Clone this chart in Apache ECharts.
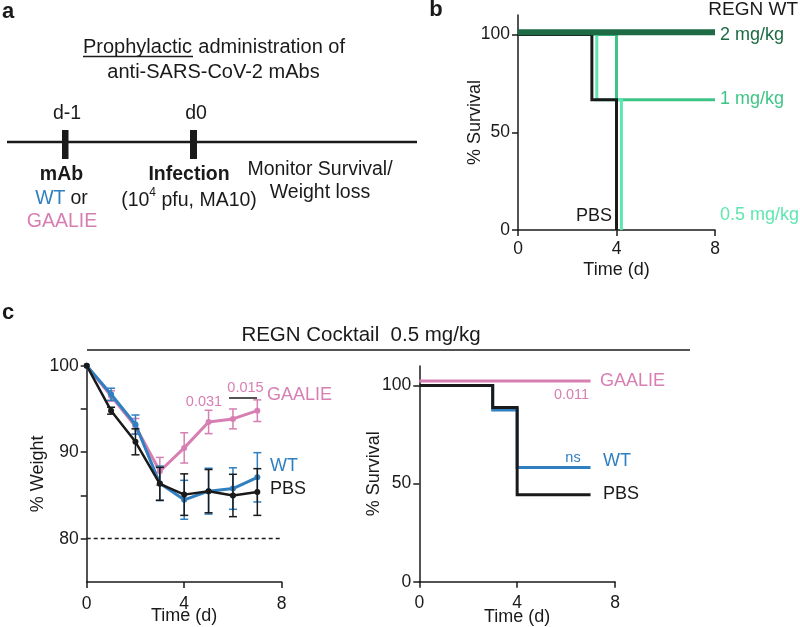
<!DOCTYPE html>
<html><head><meta charset="utf-8">
<script src="https://cdn.jsdelivr.net/npm/echarts@6/dist/echarts.min.js"></script>
<style>html,body{margin:0;padding:0;background:#fff}#c{width:800px;height:627px}</style>
</head><body><div id="c"></div>
<script>
// ---------- Panel b: survival, REGN WT doses ----------
const bPbsDays = [0, 3, 4];
const bPbsSurv = [100, 66.7, 0];
const bHalfDays = [0, 3.2, 4.2];
const bHalfSurv = [100, 66.7, 0];
const bOneDays = [0, 4, 8];
const bOneSurv = [100, 66.7, 66.7];
const bTwoDays = [0, 8];
const bTwoSurv = [101.2, 101.2];

// ---------- Panel c left: % weight ----------
const wDays = [0, 1, 2, 3, 4, 5, 6, 7];
const wtMean = [100, 96.7, 93.2, 86.4, 84.5, 85.5, 85.8, 87.1];
const wtErr = [0, 0.7, 1.1, 2.0, 2.25, 2.65, 2.4, 2.85];
const gaMean = [100, 96.5, 93.0, 87.8, 90.5, 93.5, 93.85, 94.8];
const gaErr = [0, 0.6, 0.9, 1.6, 1.75, 1.35, 1.15, 1.25];
const pbsMean = [100, 94.8, 91.2, 86.35, 85.1, 85.5, 85.0, 85.4];
const pbsErr = [0, 0.4, 1.5, 1.9, 2.4, 2.5, 2.45, 2.7];
const weightThreshold = 80;

// ---------- Panel c right: survival ----------
const cGaDays = [0, 7];
const cGaSurv = [102.4, 102.4];
const cWtDays = [0, 3, 4, 7];
const cWtSurv = [100, 87.5, 58.3, 58.3];
const cPbsDays = [0, 3, 4, 7];
const cPbsSurv = [100, 88.9, 44.4, 44.4];

// ---------- ticks ----------
const survTicks = [0, 50, 100];
const weightLabelTicks = [80, 90, 100];
const weightTicks = [80, 85, 90, 95, 100];

const FONT = 'Liberation Sans, Arial, sans-serif';
const INK = '#1a1a1a';
const PINK = '#d77fb3';
const BLUE = '#2f7fc1';
const DKGREEN = '#1d6a45';
const MDGREEN = '#3fc487';
const LTGREEN = '#5fe6b0';

const zip = (a, b) => a.map((v, i) => [v, b[i]]);

function xAxis(grid, gap, margin) {
  return {
    type: 'value', gridIndex: grid, min: 0, max: 8, interval: 4,
    name: 'Time (d)', nameLocation: 'middle', nameGap: gap, nameMoveOverlap: false,
    nameTextStyle: {fontSize: 18, color: INK, fontFamily: FONT},
    axisLine: {onZero: false, lineStyle: {color: INK, width: 1.5}},
    axisTick: {length: 6, lineStyle: {color: INK, width: 1.5}},
    axisLabel: {fontSize: 17.5, color: INK, fontFamily: FONT, margin: margin},
    splitLine: {show: false}
  };
}
function yAxis(grid, min, max, labels, ticks, name, gap) {
  return {
    type: 'value', gridIndex: grid, min: min, max: max,
    name: name, nameLocation: 'middle', nameGap: gap, nameMoveOverlap: false,
    nameTextStyle: {fontSize: 18, color: INK, fontFamily: FONT},
    axisLine: {onZero: false, lineStyle: {color: INK, width: 1.5}},
    axisTick: {length: 6, customValues: ticks, lineStyle: {color: INK, width: 1.5}},
    axisLabel: {fontSize: 17.5, color: INK, fontFamily: FONT, margin: 8, customValues: labels},
    splitLine: {show: false}
  };
}
function km(name, days, surv, color, width, xi, z) {
  return {
    type: 'line', name: name, xAxisIndex: xi, yAxisIndex: xi, step: 'end',
    data: zip(days, surv), symbol: 'none', z: z, silent: true,
    lineStyle: {color: color, width: width, cap: 'butt', join: 'miter'}
  };
}
function meanLine(name, means, color, width, z) {
  return {
    type: 'line', name: name, xAxisIndex: 1, yAxisIndex: 1, z: z,
    data: zip(wDays, means), symbol: 'circle', symbolSize: 6,
    itemStyle: {color: color}, lineStyle: {color: color, width: width}
  };
}
function errBars(means, errs, color, z) {
  return {
    type: 'custom', xAxisIndex: 1, yAxisIndex: 1, z: z,
    encode: {x: 0, y: [1, 2]},
    data: wDays.map((d, i) => [d, means[i] - errs[i], means[i] + errs[i]]),
    renderItem: function (params, api) {
      const x = api.value(0), lo = api.value(1), hi = api.value(2);
      if (hi - lo < 0.01) return {type: 'group', children: []};
      const p1 = api.coord([x, lo]), p2 = api.coord([x, hi]);
      const w = 4, st = {stroke: color, lineWidth: 1.5};
      return {type: 'group', children: [
        {type: 'line', shape: {x1: p1[0], y1: p1[1], x2: p2[0], y2: p2[1]}, style: st},
        {type: 'line', shape: {x1: p1[0] - w, y1: p1[1], x2: p1[0] + w, y2: p1[1]}, style: st},
        {type: 'line', shape: {x1: p2[0] - w, y1: p2[1], x2: p2[0] + w, y2: p2[1]}, style: st}
      ]};
    }
  };
}
function txt(s, x, y, opts) {
  return {type: 'text', x: x, y: y, z: 100, style: Object.assign({
    text: s, fontSize: 18, fontFamily: FONT, fill: INK, align: 'left', verticalAlign: 'middle'
  }, opts || {})};
}
function hline(x1, x2, y, w) {
  return {type: 'line', z: 100, shape: {x1: x1, y1: y, x2: x2, y2: y}, style: {stroke: INK, lineWidth: w}};
}

const chart = echarts.init(document.getElementById('c'), null, {renderer: 'canvas'});
chart.setOption({
  animation: false,
  backgroundColor: '#ffffff',
  grid: [
    {left: 518, top: 15, width: 197, height: 215, containLabel: false, outerBoundsMode: 'none'},
    {left: 86.7, top: 365.7, width: 195, height: 216.3, containLabel: false, outerBoundsMode: 'none'},
    {left: 419.3, top: 366, width: 195.7, height: 215.7, containLabel: false, outerBoundsMode: 'none'}
  ],
  xAxis: [xAxis(0, 31, 10), xAxis(1, 25, 13), xAxis(2, 26, 12)],
  yAxis: [
    yAxis(0, 0, 110, survTicks, survTicks, '% Survival', 34),
    yAxis(1, 75, 100, weightLabelTicks, weightTicks, '% Weight', 40),
    yAxis(2, 0, 110, survTicks, survTicks, '% Survival', 36)
  ],
  series: [
    km('1 mg/kg', bOneDays, bOneSurv, MDGREEN, 3, 0, 2),
    km('0.5 mg/kg', bHalfDays, bHalfSurv, LTGREEN, 3, 0, 3),
    km('PBS', bPbsDays, bPbsSurv, INK, 3, 0, 4),
    km('2 mg/kg', bTwoDays, bTwoSurv, DKGREEN, 6, 0, 5),

    errBars(gaMean, gaErr, PINK, 2),
    meanLine('GAALIE', gaMean, PINK, 3, 3),
    errBars(wtMean, wtErr, BLUE, 4),
    meanLine('WT', wtMean, BLUE, 3, 5),
    errBars(pbsMean, pbsErr, INK, 6),
    Object.assign(meanLine('PBS', pbsMean, INK, 2.5, 7), {
      markLine: {silent: true, symbol: 'none', label: {show: false},
        lineStyle: {color: INK, width: 1.3, type: [4, 3]},
        data: [{yAxis: weightThreshold}]}
    }),

    km('GAALIE', cGaDays, cGaSurv, PINK, 3, 2, 2),
    km('WT', cWtDays, cWtSurv, BLUE, 3, 2, 3),
    km('PBS', cPbsDays, cPbsSurv, INK, 3, 2, 4)
  ],
  graphic: [
    // panel a
    txt('a', 8, 12, {fontSize: 22, fontWeight: 'bold', align: 'center'}),
    txt('Prophylactic', 83, 47, {fontSize: 20}),
    txt('administration of', 345, 47, {fontSize: 20, align: 'right'}),
    hline(83, 193, 56.5, 1.3),
    txt('anti-SARS-CoV-2 mAbs', 213.5, 72, {fontSize: 20, align: 'center'}),
    txt('d-1', 67, 114, {fontSize: 19.5, align: 'center'}),
    txt('d0', 196, 114, {fontSize: 19.5, align: 'center'}),
    hline(7, 417, 142, 2.6),
    {type: 'rect', z: 100, shape: {x: 62, y: 130, width: 6.5, height: 29}, style: {fill: INK}},
    {type: 'rect', z: 100, shape: {x: 190, y: 130, width: 7, height: 29}, style: {fill: INK}},
    txt('mAb', 61.5, 175, {fontSize: 19.5, fontWeight: 'bold', align: 'center'}),
    txt('{b|WT} {k|or}', 61.5, 199, {align: 'center', rich: {
      b: {fontSize: 19.5, fontFamily: FONT, fill: BLUE, color: BLUE},
      k: {fontSize: 19.5, fontFamily: FONT, fill: INK, color: INK}}}),
    txt('GAALIE', 62, 222, {fontSize: 19.5, fill: PINK, align: 'center'}),
    txt('Infection', 189, 175, {fontSize: 19.5, fontWeight: 'bold', align: 'center'}),
    txt('{n|(10}{s|4}{n| pfu, MA10)}', 189, 199, {align: 'center', rich: {
      n: {fontSize: 19.5, fontFamily: FONT, lineHeight: 24, verticalAlign: 'bottom'},
      s: {fontSize: 12, fontFamily: FONT, lineHeight: 14, verticalAlign: 'top'}}}),
    txt('Monitor Survival/', 320, 170, {fontSize: 19.5, align: 'center'}),
    txt('Weight loss', 320, 193, {fontSize: 19.5, align: 'center'}),

    // panel b
    txt('b', 436, 10, {fontSize: 22, fontWeight: 'bold', align: 'center'}),
    txt('REGN WT', 798, 10, {fontSize: 19, align: 'right'}),
    txt('2 mg/kg', 720, 35, {fill: DKGREEN}),
    txt('1 mg/kg', 720, 99, {fill: MDGREEN}),
    txt('0.5 mg/kg', 720, 215, {fill: LTGREEN}),
    txt('PBS', 576, 216),

    // panel c
    txt('c', 8, 313, {fontSize: 22, fontWeight: 'bold', align: 'center'}),
    txt('REGN Cocktail  0.5 mg/kg', 361, 335, {fontSize: 20.5, align: 'center'}),
    hline(87, 690, 350, 1.5),
    txt('0.031', 204, 402, {fontSize: 14.5, fill: PINK, align: 'center'}),
    txt('0.015', 245.5, 388, {fontSize: 14.5, fill: PINK, align: 'center'}),
    hline(229, 257, 398, 1.5),
    txt('GAALIE', 267, 395, {fill: PINK}),
    txt('WT', 270, 466, {fill: BLUE}),
    txt('PBS', 270, 489),
    txt('0.011', 571.5, 395, {fontSize: 14.5, fill: PINK, align: 'center'}),
    txt('ns', 573, 458, {fontSize: 14.5, fill: BLUE, align: 'center'}),
    txt('GAALIE', 600, 381.5, {fill: PINK}),
    txt('WT', 603, 461.5, {fill: BLUE}),
    txt('PBS', 603, 494.5)
  ]
});
</script></body></html>
